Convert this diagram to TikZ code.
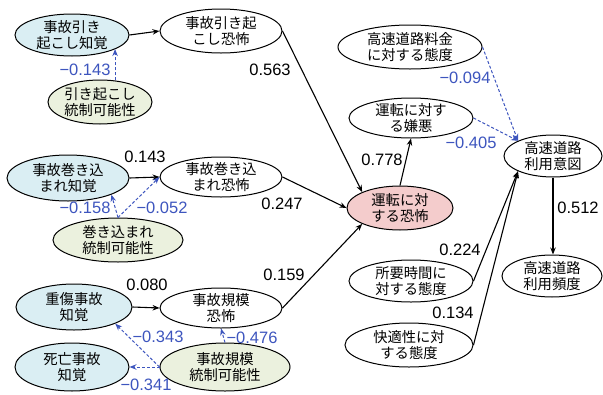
\documentclass[tikz,border=0pt]{standalone}
\usepackage{fontspec}
\setmainfont{Liberation Sans}
\newfontfamily\cjk{Noto Sans CJK JP}
\usetikzlibrary{shapes.geometric,arrows.meta,calc}
\definecolor{lblue}{HTML}{DAEEF3}
\definecolor{lgreen}{HTML}{EBF1DE}
\definecolor{lpink}{HTML}{F4CCCC}
\definecolor{nblue}{HTML}{3D55BE}
\begin{document}
\begin{tikzpicture}[x=1pt,y=-1pt,
 el/.style={draw,ellipse,line width=1pt,inner sep=0pt,fill=white},
 jt/.style={font=\cjk\fontsize{14.3}{16.5}\selectfont,align=center,inner sep=0pt},
 arr/.style={-{Stealth[length=7pt,width=5.5pt]},line width=1.1pt},
 barr/.style={-{Stealth[length=7pt,width=5.5pt]},line width=1pt,nblue,dash pattern=on 3pt off 2pt},
 num/.style={font=\fontsize{16.5}{18}\selectfont,inner sep=0pt},
 bnum/.style={num,text=nblue}]
\useasboundingbox (0,0) rectangle (603,394);
% nodes
\node[el,fill=lblue,minimum width=114pt,minimum height=42pt,label={[jt]center:事故引き\\起こし知覚}] (a1) at (72,35) {};
\node[el,minimum width=122pt,minimum height=44pt,label={[jt]center:事故引き起\\こし恐怖}] (a2) at (221,31) {};
\node[el,fill=lgreen,minimum width=104pt,minimum height=44pt,label={[jt]center:引き起こし\\統制可能性}] (a3) at (100,102) {};
\node[el,fill=lblue,minimum width=122pt,minimum height=46pt,label={[jt]center:事故巻き込\\まれ知覚}] (b1) at (68,178) {};
\node[el,minimum width=122pt,minimum height=40pt,label={[jt]center:事故巻き込\\まれ恐怖}] (b2) at (221,177) {};
\node[el,fill=lgreen,minimum width=130pt,minimum height=44pt,label={[jt]center:巻き込まれ\\統制可能性}] (b3) at (118,240) {};
\node[el,fill=lblue,minimum width=116pt,minimum height=46pt,label={[jt]center:重傷事故\\知覚}] (c1) at (74,307) {};
\node[el,minimum width=122pt,minimum height=40pt,label={[jt]center:事故規模\\恐怖}] (c2) at (221,308) {};
\node[el,fill=lblue,minimum width=114pt,minimum height=48pt,label={[jt]center:死亡事故\\知覚}] (c4) at (72,367) {};
\node[el,fill=lgreen,minimum width=130pt,minimum height=48pt,label={[jt]center:事故規模\\統制可能性}] (c3) at (225,367) {};
\node[el,fill=lpink,minimum width=106pt,minimum height=44pt,label={[jt]center:運転に対\\する恐怖}] (fear) at (400,208) {};
\node[el,minimum width=124pt,minimum height=40pt,label={[jt]center:運転に対す\\る嫌悪}] (kenno) at (411,118) {};
\node[el,minimum width=144pt,minimum height=44pt,label={[jt]center:高速道路料金\\に対する態度}] (ryokin) at (410,47) {};
\node[el,minimum width=98pt,minimum height=42pt,label={[jt]center:高速道路\\利用意図}] (ito) at (553,156) {};
\node[el,minimum width=100pt,minimum height=42pt,label={[jt]center:高速道路\\利用頻度}] (hindo) at (552,276) {};
\node[el,minimum width=124pt,minimum height=42pt,label={[jt]center:所要時間に\\対する態度}] (jikan) at (411,281) {};
\node[el,minimum width=128pt,minimum height=44pt,label={[jt]center:快適性に対\\する態度}] (kaiteki) at (409,345) {};
% connectors
\draw[arr] (a1.east) -- (a2.west);
\draw[arr] (a2.east) -- (fear.north west);
\draw[barr] (a3.55) -- (a3.55 |- a1.-18);
\draw[arr] (b1.east) -- (b2.west);
\draw[barr] (b3.north) -- (b1.-21);
\draw[barr] (b3.north) -- (b2.west);
\draw[arr] (b2.east) -- (fear.west);
\draw[arr] (c1.east) -- (c2.west);
\draw[arr] (c2.east) -- (fear.south west);
\draw[barr] (c3.west) -- (c1.-22);
\draw[barr] (c3.north) -- (c2.south);
\draw[barr] (c3.west) -- (c4.east);
\draw[arr] (fear.north) -- (kenno.south);
\draw[barr] (ryokin.east) -- (ito.north west);
\draw[barr] (kenno.east) -- (ito.north west);
\draw[arr] (jikan.east) -- (ito.south west);
\draw[arr] (kaiteki.east) -- (ito.south west);
\draw[arr] (ito.south) -- (ito.south |- hindo.north);
% labels
\node[bnum] (n1) at (85,70) {−0.143};
\node[num] (n2) at (270,70) {0.563};
\node[num] (n3) at (145,157) {0.143};
\node[bnum] (n4) at (85,208) {−0.158};
\node[bnum] (n5) at (162,208) {−0.052};
\node[num] (n6) at (282,204) {0.247};
\node[num] (n7) at (147,285) {0.080};
\node[num] (n8) at (284,275) {0.159};
\node[bnum] (n9) at (158,337) {−0.343};
\node[bnum] (n10) at (252,338) {−0.476};
\node[bnum] (n11) at (146,385) {−0.341};
\node[num] (n12) at (382,160) {0.778};
\node[bnum] (n13) at (465,78) {−0.094};
\node[bnum] (n14) at (471,143) {−0.405};
\node[num] (n15) at (460,250) {0.224};
\node[num] (n16) at (453,313) {0.134};
\node[num] (n17) at (578,208) {0.512};
\end{tikzpicture}
\end{document}
